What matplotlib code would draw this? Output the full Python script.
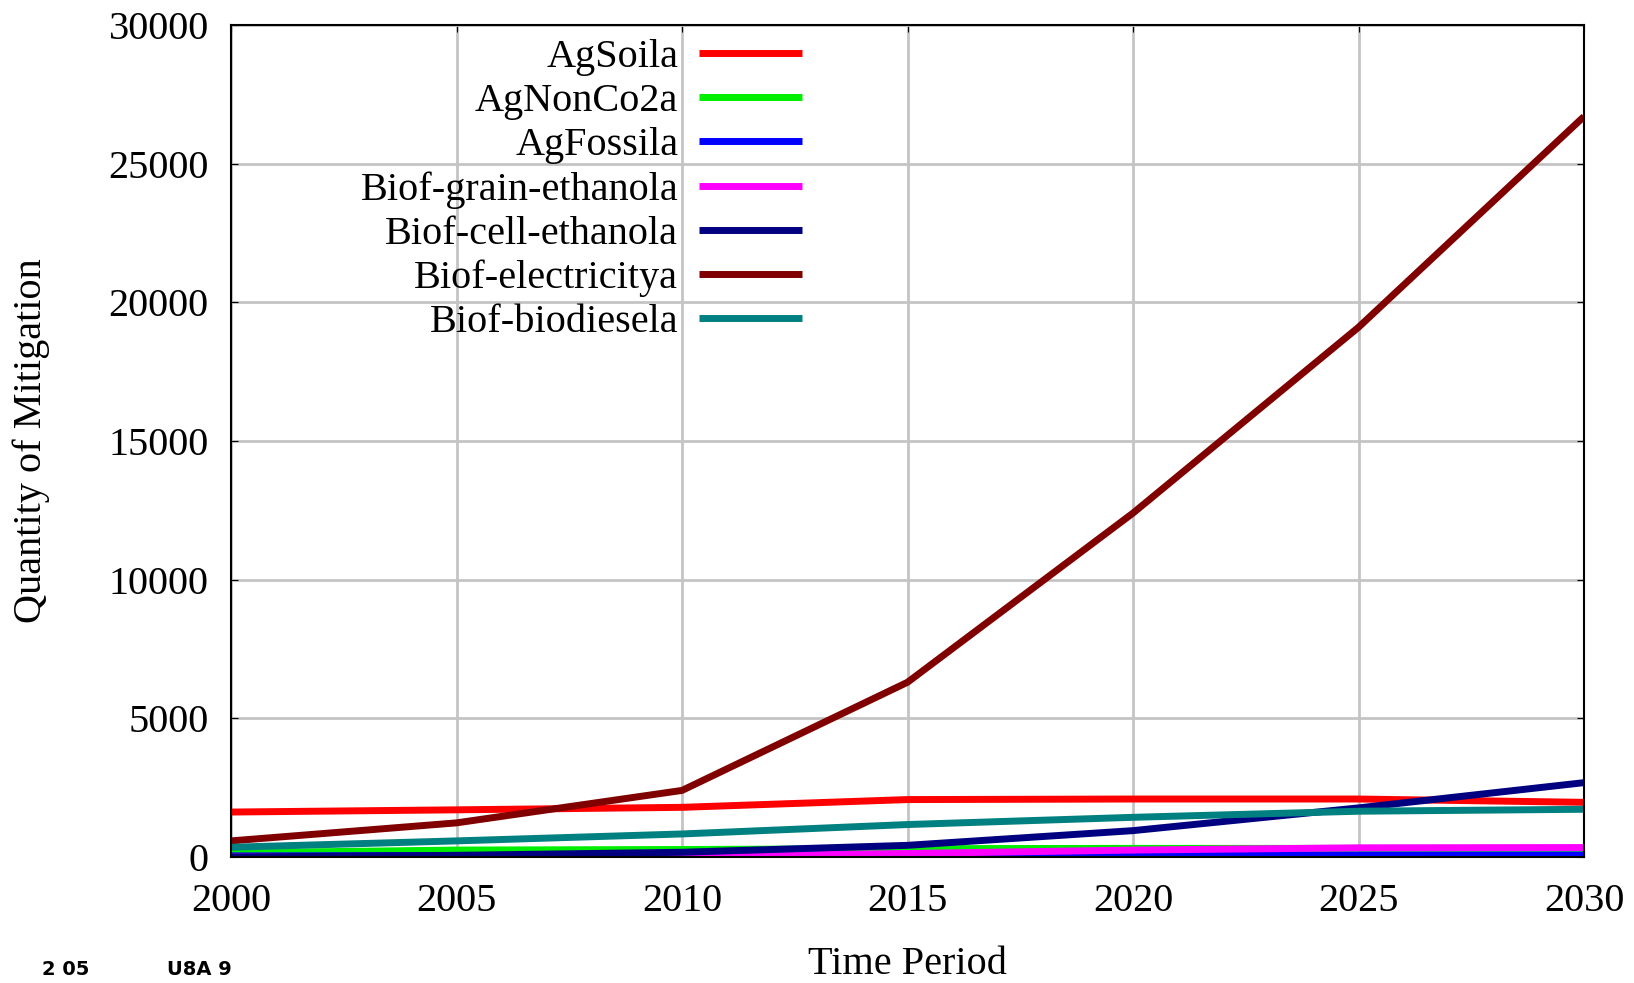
import matplotlib.pyplot as plt

years = [2000, 2005, 2010, 2015, 2020, 2025, 2030]
ag_soil = [1620, 1700, 1790, 2070, 2090, 2090, 1970]
ag_nonco2 = [150, 250, 270, 300, 310, 310, 310]
ag_fossil = [40, 50, 60, 60, 70, 70, 70]
grain_eth = [0, 10, 50, 125, 250, 330, 340]
cell_eth = [0, 60, 170, 420, 950, 1770, 2680]
electricity = [580, 1230, 2400, 6300, 12400, 19100, 26700]
biodiesel = [350, 580, 830, 1170, 1430, 1650, 1720]

names = ["AgSoila", "AgNonCo2a", "AgFossila", "Biof-grain-ethanola",
         "Biof-cell-ethanola", "Biof-electricitya", "Biof-biodiesela"]
series = [ag_soil, ag_nonco2, ag_fossil, grain_eth, cell_eth, electricity, biodiesel]
colors = ["#ff0000", "#00ee00", "#0000ff", "#ff00ff", "#000080", "#800000", "#008080"]

plt.rcParams['font.family'] = ['Liberation Serif', 'DejaVu Serif']
fs = 29

fig = plt.figure(figsize=(16.34, 9.83), dpi=100)
ax = fig.add_axes([0.1414, 0.1282, 0.828, 0.8464])

for name, vals, c in zip(names, series, colors):
    ax.plot(years, vals, color=c, lw=5, label=name, solid_capstyle='butt')

ax.set_xlim(2000, 2030)
ax.set_ylim(0, 30000)
ax.set_xticks(range(2000, 2031, 5))
ax.set_yticks(range(0, 30001, 5000))
ax.grid(True, color="#c4c4c4", lw=2)
ax.set_axisbelow(True)
ax.tick_params(labelsize=fs, direction='in', length=5, top=True, right=True)
ax.tick_params(axis='x', pad=19)
ax.tick_params(axis='y', pad=16)
for s in ax.spines.values():
    s.set_linewidth(1.5)

ax.set_xlabel("Time Period", fontsize=fs)
ax.set_ylabel("Quantity of Mitigation", fontsize=fs)
ax.xaxis.set_label_coords(0.5, -0.129)
ax.xaxis.label.set_va('center')
ax.yaxis.set_label_coords(-0.148, 0.5)
ax.yaxis.label.set_va('center')

ax.legend(loc='upper right', bbox_to_anchor=(0.422, 0.983), frameon=False,
          markerfirst=False, fontsize=fs, handlelength=2.55, handletextpad=0.52,
          labelspacing=0.17, borderaxespad=0, borderpad=0)

fig.text(0.026, 0.014, "2 05", fontsize=14, fontweight='bold',
         family='DejaVu Sans', va='center')
fig.text(0.102, 0.014, "U8A 9", fontsize=14, fontweight='bold',
         family='DejaVu Sans', va='center')

fig.savefig("out.png", dpi=100)
